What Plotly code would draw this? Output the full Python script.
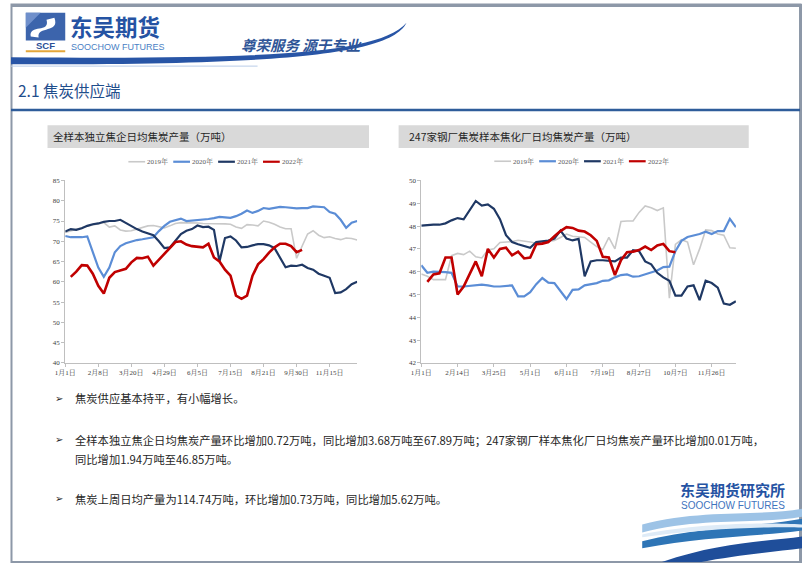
import plotly.graph_objects as go

W, H = 802, 567

# ---------------- data ----------------
years = ["2019年", "2020年", "2021年", "2022年"]
colors = ["#C9C9C9", "#5B8DD6", "#1F3864", "#C00000"]
widths = [1.6, 2.2, 2.2, 2.6]

left_ticks = ["1月1日", "2月8日", "3月20日", "4月29日", "6月5日", "7月15日", "8月21日", "9月30日", "11月15日"]
right_ticks = ["1月1日", "2月14日", "3月25日", "5月1日", "6月11日", "7月19日", "8月27日", "10月7日", "11月26日"]

left_2019 = [72.2, 72.6, 72.9, 73.3, 73.7, 74.0, 74.3, 74.6, 73.5, 73.8, 72.8, 72.5, 72.6, 73.0, 73.5,
             73.8, 73.9, 73.6, 73.3, 73.8, 74.4, 74.6, 74.6, 74.5, 74.5, 74.4, 74.4, 74.4, 74.4, 74.3,
             74.2, 73.5, 73.2, 74.1, 74.0, 73.8, 75.0, 74.7, 74.2, 73.5, 73.1, 73.1, 65.8, 69.0, 71.8,
             72.6, 71.5, 70.9, 71.1, 70.7, 70.4, 70.8, 70.7, 70.3]
left_2020 = [71.3, 71.0, 71.0, 71.0, 71.2, 67.5, 63.5, 61.2, 63.5, 67.3, 68.8, 69.5, 69.9, 70.3, 70.5,
             70.8, 71.0, 72.5, 73.8, 74.8, 75.3, 75.6, 75.0, 75.1, 75.2, 75.3, 75.5, 75.7, 76.0, 75.9,
             75.8, 76.2, 76.8, 77.6, 77.0, 77.5, 78.2, 78.0, 78.3, 78.5, 78.4, 78.2, 78.1, 78.2, 78.2,
             78.6, 78.5, 78.4, 77.2, 76.8, 75.3, 73.3, 74.6, 75.0]
left_2021 = [72.4, 73.0, 72.8, 73.2, 73.8, 74.2, 74.4, 74.8, 75.0, 75.0, 75.3, 74.5, 73.8, 73.0, 72.4,
             72.0, 71.5, 70.0, 68.3, 68.5, 70.2, 71.8, 72.6, 73.0, 73.9, 73.5, 73.6, 72.8, 65.0, 70.8,
             71.2, 70.2, 68.5, 68.6, 69.0, 69.3, 69.3, 69.0, 68.3, 66.0, 63.6, 64.0, 63.9, 64.2, 63.4,
             63.0, 62.0, 61.5, 61.0, 57.2, 57.4, 58.2, 59.4, 60.0]
left_2022 = [None, 61.2, 62.5, 64.1, 64.0, 62.0, 59.0, 57.1, 61.0, 62.4, 62.8, 63.2, 64.8, 65.9, 65.8,
             66.2, 64.0, 65.5, 67.0, 68.5, 69.8, 70.0, 69.2, 68.8, 68.6, 68.5, 69.4, 66.0, 65.0, 63.0,
             61.5, 56.6, 55.8, 56.6, 61.5, 64.3, 65.6, 67.2, 68.5, 69.4, 69.4, 68.8, 67.3, 67.89]

right_2019 = [45.9, 45.8, 45.65, 45.65, 45.65, 46.7, 46.8, 46.75, 46.9, 46.65, 46.6, 46.95, 47.0, 47.28,
              47.3, 47.32, 47.38, 47.35, 47.3, 47.25, 47.3, 47.35, 47.37, 47.5, 47.65, 47.55, 47.52,
              47.5, 47.3, 47.1, 46.97, 47.5, 47.0, 48.2, 48.22, 48.22, 48.6, 48.88, 48.8, 48.68, 48.8,
              44.84, 47.2, 47.4, 47.3, 46.3, 47.0, 47.83, 47.8, 47.65, 47.6, 47.05, 47.03]
right_2020 = [46.28, 45.95, 46.0, 46.0, 45.98, 45.95, 45.35, 45.35, 45.38, 45.42, 45.43, 45.4, 45.35,
              45.35, 45.38, 45.4, 44.92, 44.92, 45.1, 45.45, 45.72, 45.52, 45.5, 45.15, 44.8, 45.2,
              45.22, 45.4, 45.45, 45.5, 45.6, 45.62, 45.75, 45.85, 45.88, 45.78, 45.8, 45.88, 45.95,
              46.05, 46.2, 46.22, 46.9, 47.35, 47.52, 47.58, 47.65, 47.75, 47.65, 47.78, 47.78, 48.32,
              47.95]
right_2021 = [48.02, 48.05, 48.06, 48.06, 48.12, 48.25, 48.35, 48.3, 48.7, 49.1, 48.9, 48.95, 48.76,
              48.3, 47.6, 47.3, 47.2, 47.12, 47.05, 47.3, 47.34, 47.36, 47.45, 47.8, 47.45, 47.37,
              47.44, 45.8, 46.45, 46.5, 46.5, 46.48, 46.45, 46.62, 46.62, 46.94, 46.9, 46.45, 46.32,
              45.95, 45.75, 45.6, 44.95, 44.95, 45.35, 45.4, 44.75, 45.6, 45.5, 45.3, 44.6, 44.55, 44.7]
right_2022 = [None, 45.55, 45.88, 45.93, 46.62, 46.62, 45.0, 45.35, 45.9, 46.45, 45.8, 47.0, 46.62, 47.0,
              47.05, 46.72, 46.88, 46.58, 46.62, 47.2, 47.23, 47.3, 47.55, 47.78, 47.95, 47.92, 47.8,
              47.76, 47.6, 47.35, 46.65, 46.62, 45.85, 46.5, 46.85, 46.88, 46.95, 47.1, 46.95, 47.15,
              47.22, 46.9, 46.85]

left_series = [left_2019, left_2020, left_2021, left_2022]
right_series = [right_2019, right_2020, right_2021, right_2022]

left_title = "全样本独立焦企日均焦炭产量（万吨）"
right_title = "247家钢厂焦炭样本焦化厂日均焦炭产量（万吨）"
section_title = "2.1 焦炭供应端"
bullets = [
    "焦炭供应基本持平，有小幅增长。",
    "全样本独立焦企日均焦炭产量环比增加0.72万吨，同比增加3.68万吨至67.89万吨；247家钢厂样本焦化厂日均焦炭产量环比增加0.01万吨，",
    "同比增加1.94万吨至46.85万吨。",
    "焦炭上周日均产量为114.74万吨，环比增加0.73万吨，同比增加5.62万吨。",
]

# ---------------- helpers ----------------
def fx(x):
    return x / W

def fy(y):
    return 1 - y / H

CJK = "Noto Sans CJK SC"
SERIF = "Liberation Serif, Noto Serif CJK SC, Noto Sans CJK SC"

fig = go.Figure()

for i, ys in enumerate(left_series):
    fig.add_trace(go.Scatter(x=list(range(len(ys))), y=ys, mode="lines", name=years[i],
                             line=dict(color=colors[i], width=widths[i]),
                             xaxis="x", yaxis="y", showlegend=False, connectgaps=False))
for i, ys in enumerate(right_series):
    fig.add_trace(go.Scatter(x=list(range(len(ys))), y=ys, mode="lines", name=years[i],
                             line=dict(color=colors[i], width=widths[i]),
                             xaxis="x2", yaxis="y2", showlegend=False, connectgaps=False))

axis_common = dict(showline=True, linecolor="#BFBFBF", linewidth=1, ticks="outside", ticklen=3,
                   tickcolor="#BFBFBF", showgrid=False, zeroline=False,
                   tickfont=dict(family=SERIF, size=7, color="#404040"))

fig.update_layout(
    width=W, height=H, autosize=False,
    margin=dict(l=0, r=0, t=0, b=0),
    paper_bgcolor="white", plot_bgcolor="white",
    showlegend=False,
    xaxis=dict(domain=[fx(55), fx(351)], range=[0, 53], tickvals=list(range(0, 49, 6)),
               ticktext=left_ticks, anchor="y", **axis_common),
    yaxis=dict(domain=[fy(364), fy(179)], range=[40, 85], dtick=5, anchor="x", **axis_common),
    xaxis2=dict(domain=[fx(416), fx(735)], range=[0, 52], tickvals=list(range(0, 49, 6)),
                ticktext=right_ticks, anchor="y2", **axis_common),
    yaxis2=dict(domain=[fy(364), fy(179)], range=[42, 50], dtick=1, anchor="x2", **axis_common),
)

shapes = []
annotations = []

def ann(x, y, text, size, color, family=CJK, xanchor="left", bold=False, italic=False):
    t = text
    if bold:
        t = "<b>" + t + "</b>"
    if italic:
        t = "<i>" + t + "</i>"
    annotations.append(dict(x=fx(x), y=fy(y), xref="paper", yref="paper", text=t, showarrow=False,
                            xanchor=xanchor, yanchor="middle", borderpad=0,
                            font=dict(family=family, size=size, color=color)))

def pth(cmds, fill, line_color=None, lw=0, layer="above"):
    s = ""
    for c in cmds:
        if isinstance(c, str):
            s += c + " "
        else:
            s += "%.5f,%.5f " % (fx(c[0]), fy(c[1]))
    shapes.append(dict(type="path", xref="paper", yref="paper", path=s.strip(), fillcolor=fill,
                       line=dict(color=line_color or fill, width=lw), layer=layer))

def rect(x0, y0, x1, y1, fill=None, line_color=None, lw=0, layer="below"):
    shapes.append(dict(type="rect", xref="paper", yref="paper", x0=fx(x0), x1=fx(x1), y0=fy(y1), y1=fy(y0),
                       fillcolor=fill if fill else "rgba(0,0,0,0)",
                       line=dict(color=line_color if line_color else "rgba(0,0,0,0)", width=lw), layer=layer))

def hline(x0, x1, y, color, lw):
    shapes.append(dict(type="line", xref="paper", yref="paper", x0=fx(x0), x1=fx(x1), y0=fy(y), y1=fy(y),
                       line=dict(color=color, width=lw), layer="above"))

# --- slide frame
rect(0.5, 0.5, 800.5, 566, None, "#8D98A8", 2, layer="above")
hline(0, 802, 1.5, "#8D98A8", 3)
shapes.append(dict(type="line", xref="paper", yref="paper", x0=fx(800.5), x1=fx(800.5), y0=0, y1=1,
                   line=dict(color="#8D98A8", width=3), layer="above"))

# --- header logo
rect(15, 9, 55, 37, "#3C64AC", None, 0, layer="above")
pth(["M", (20, 33), "C", (18, 20), (40, 30), (36, 16), "L", (44, 14), "C", (50, 30), (26, 22), (28, 34), "Z"],
    "white")
pth(["M", (15, 9), "L", (30, 9), "L", (15, 24), "Z"], "#6F8FCB")
ann(35, 42.5, "SCF", 9.5, "#2B4F96", family="Liberation Sans", xanchor="center", bold=True)
hline(15, 55, 48, "#E3A63A", 2)
ann(59, 22, "东吴期货", 22.5, "#2553A3", bold=True)
ann(60, 43.5, "SOOCHOW FUTURES", 9, "#4A7FC4", family="Liberation Sans Narrow, Liberation Sans")
ann(232, 41, "尊荣服务 源于专业", 14.5, "#2F5597", bold=True, italic=True)
# swoosh
pth(["M", (0, 54), "C", (250, 56), (372, 52), (401, 19), "C", (385, 52), (270, 62), (0, 61), "Z"], "#2855A6")
hline(0, 250, 63, "#B9CCE8", 1)

# section title and rule
ann(6, 87, section_title, 15.5, "#1F4E8C")
hline(0, 800, 107.5, "#2E5C9A", 2.5)

# chart title bars
rect(37, 123, 363, 146, "#D9D9D9")
rect(393, 123, 748, 146, "#D9D9D9")
ann(42, 134.5, left_title, 10.5, "#262626")
ann(403, 134.5, right_title, 10.5, "#262626")

# legends
def legend(x_start, y, step):
    for i, name in enumerate(years):
        x0 = x_start + i * step
        shapes.append(dict(type="line", xref="paper", yref="paper", x0=fx(x0), x1=fx(x0 + 17),
                           y0=fy(y), y1=fy(y), line=dict(color=colors[i], width=2.2 if i else 1.6),
                           layer="above"))
        ann(x0 + 18, y, name, 7, "#595959", family=SERIF)

legend(119, 160, 45.5)
legend(490, 159.5, 45.5)

# bullets
bullet_y = [400, 442, 462, 502]
for k, (txt, yy) in enumerate(zip(bullets, bullet_y)):
    if k != 2:
        ann(44, yy, "➢", 10, "#262626", family="DejaVu Sans")
    ann(64, yy, txt, 11.3, "#262626")

# bottom-right logo
ann(732, 492, "东吴期货研究所", 15, "#2553A3", xanchor="center", bold=True)
ann(732, 508.5, "SOOCHOW FUTURES", 10, "#3F74BE", family="Liberation Sans", xanchor="center")
# waves
pth(["M", (640, 528), "C", (700, 512), (760, 520), (802, 512), "L", (802, 520), "C", (760, 528), (700, 520), (640, 536), "Z"],
    "#9DC3E6")
pth(["M", (640, 545), "C", (700, 530), (760, 530), (802, 522), "L", (802, 534), "C", (760, 540), (700, 540), (640, 552), "Z"],
    "#2E75B6")
pth(["M", (660, 566), "C", (720, 545), (770, 545), (802, 540), "L", (802, 552), "C", (770, 556), (730, 560), (700, 566), "Z"],
    "#1F4E9A")
pth(["M", (640, 538), "C", (700, 526), (770, 526), (802, 528), "L", (802, 531), "C", (770, 530), (700, 532), (640, 541), "Z"],
    "#DEEBF7")

fig.update_layout(shapes=shapes, annotations=annotations)

fig.write_html("out.html")
